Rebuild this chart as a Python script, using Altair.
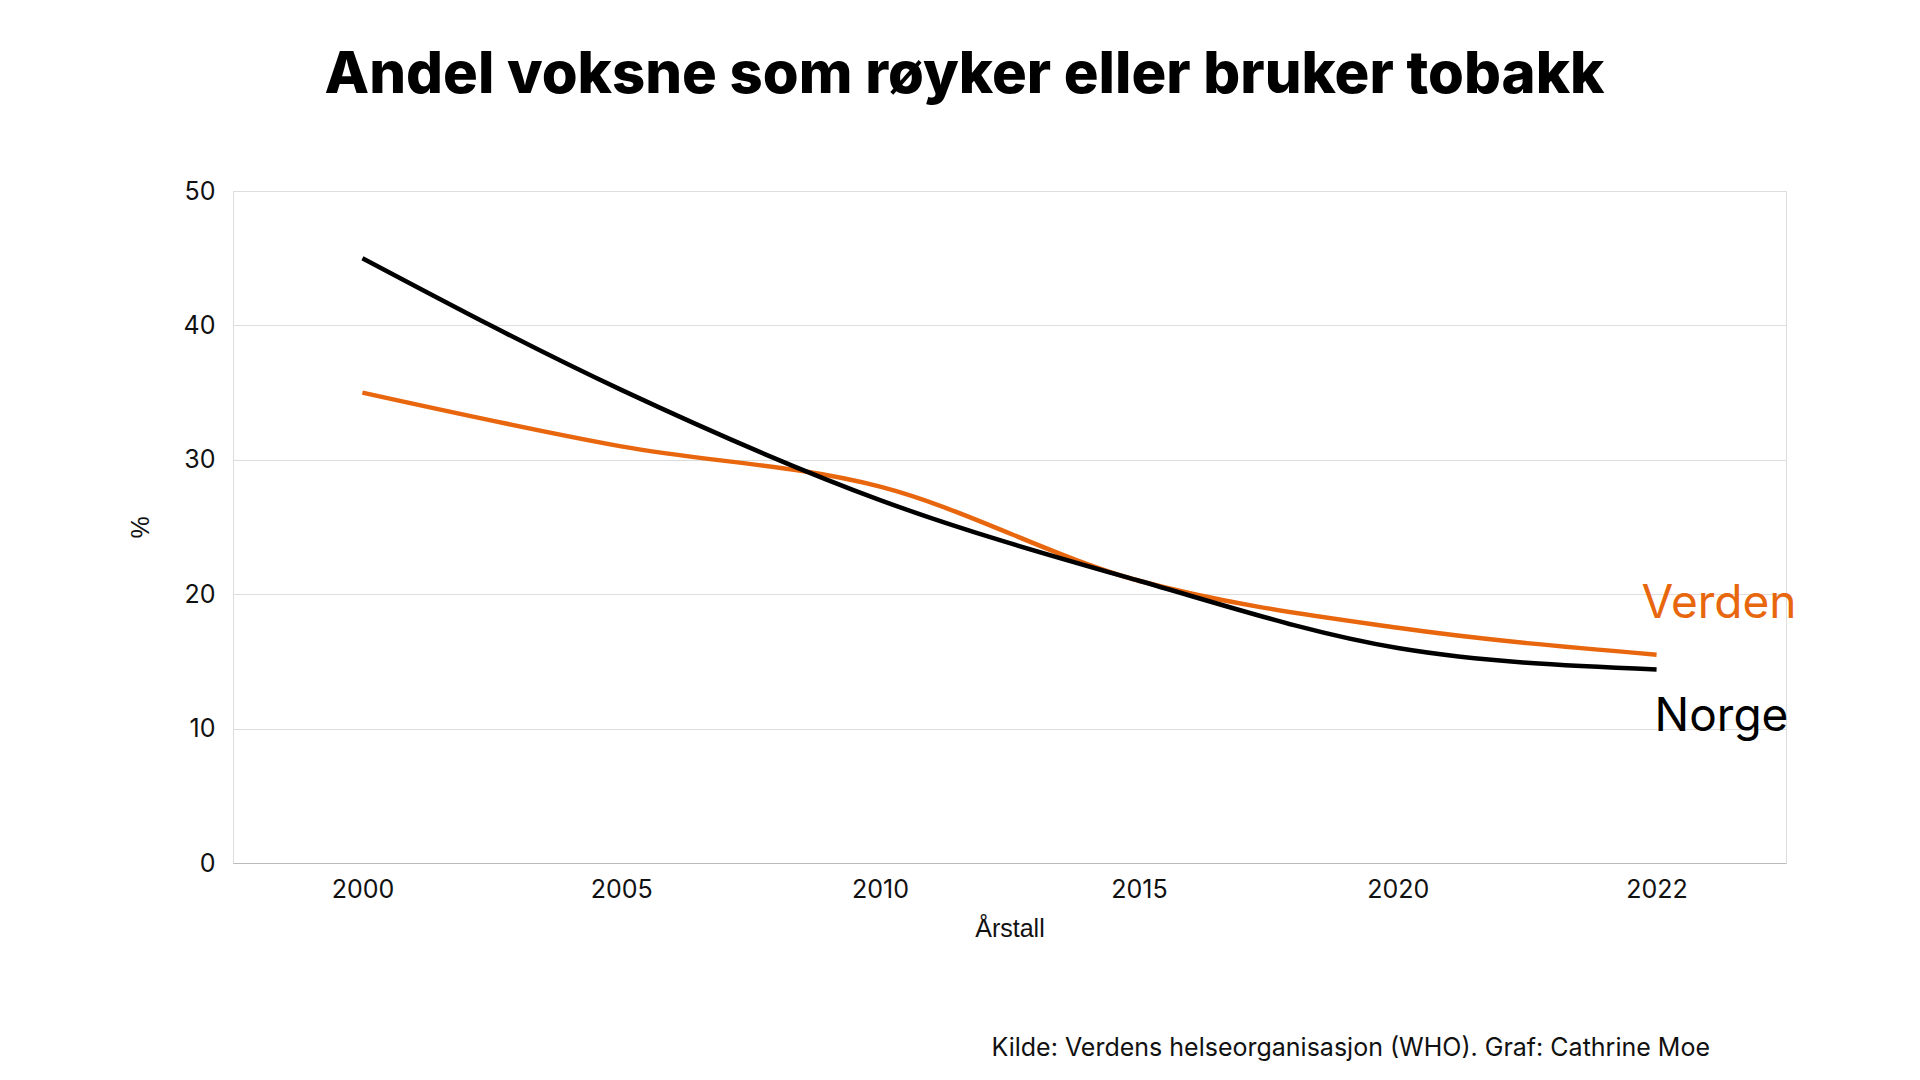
import altair as alt
import pandas as pd

years = ["2000", "2005", "2010", "2015", "2020", "2022"]
norge = [45.0, 35.2, 27.0, 21.0, 16.0, 14.4]
verden = [35.0, 31.0, 28.0, 21.0, 17.5, 15.5]
series = ["Verden", "Norge"]
colors = ["#E8660D", "#000000"]

rows = []
for name, vals in zip(series, [verden, norge]):
    for y, v in zip(years, vals):
        rows.append({"year": y, "value": v, "serie": name})
df = pd.DataFrame(rows)
last = df[df["year"] == years[-1]]

color = alt.Color("serie:N", scale=alt.Scale(domain=series, range=colors), legend=None)
x = alt.X("year:O", scale=alt.Scale(type="point", padding=0.5), title="Årstall",
          axis=alt.Axis(labelAngle=0, ticks=False, domain=True, domainColor="#bbbbbb",
                        labelPadding=14, titlePadding=14, labelFontSize=25, titleFontSize=25,
                        labelFont="Inter", titleFont="Liberation Sans", titleFontWeight="normal",
                        labelColor="#111", titleColor="#111"))
y = alt.Y("value:Q", scale=alt.Scale(domain=[0, 50]), title="%",
          axis=alt.Axis(values=[0, 10, 20, 30, 40, 50], ticks=False, domain=False,
                        gridColor="#dddddd", labelPadding=18, labelFontSize=25, titleFontSize=25,
                        labelFont="Inter", titleFont="Liberation Sans", titleFontWeight="normal",
                        labelColor="#111", titleColor="#111", titlePadding=30))

lines = alt.Chart(df).mark_line(strokeWidth=4.5, interpolate="monotone").encode(x=x, y=y, color=color)

lab_v = alt.Chart(last[last["serie"] == "Verden"]).mark_text(
    align="left", baseline="middle", dx=-15, dy=-51, fontSize=46, font="Inter"
).encode(x=x, y=y, text="serie:N", color=color)
lab_n = alt.Chart(last[last["serie"] == "Norge"]).mark_text(
    align="left", baseline="middle", dx=-2, dy=48, fontSize=46, font="Inter"
).encode(x=x, y=y, text="serie:N", color=color)

source = alt.Chart(pd.DataFrame({"t": ["Kilde: Verdens helseorganisasjon (WHO). Graf: Cathrine Moe"]})).mark_text(
    align="right", baseline="middle", fontSize=25, font="Inter", color="#111"
).encode(x=alt.value(1477), y=alt.value(857), text="t:N")

chart = alt.layer(lines, lab_v, lab_n, source).properties(
    width=1553, height=672,
    autosize=alt.AutoSizeParams(type="none"),
    padding={"left": 225, "top": 183, "right": 120, "bottom": 210},
    title=alt.Title("Andel voksne som røyker eller bruker tobakk", fontSize=58, font="Inter",
                    fontWeight=800, color="#000", anchor="middle", dx=-45, offset=74),
).configure_view(stroke="transparent", strokeWidth=0).configure(background="white")

chart.save("out.html", embed_options={"renderer": "svg", "actions": False})
